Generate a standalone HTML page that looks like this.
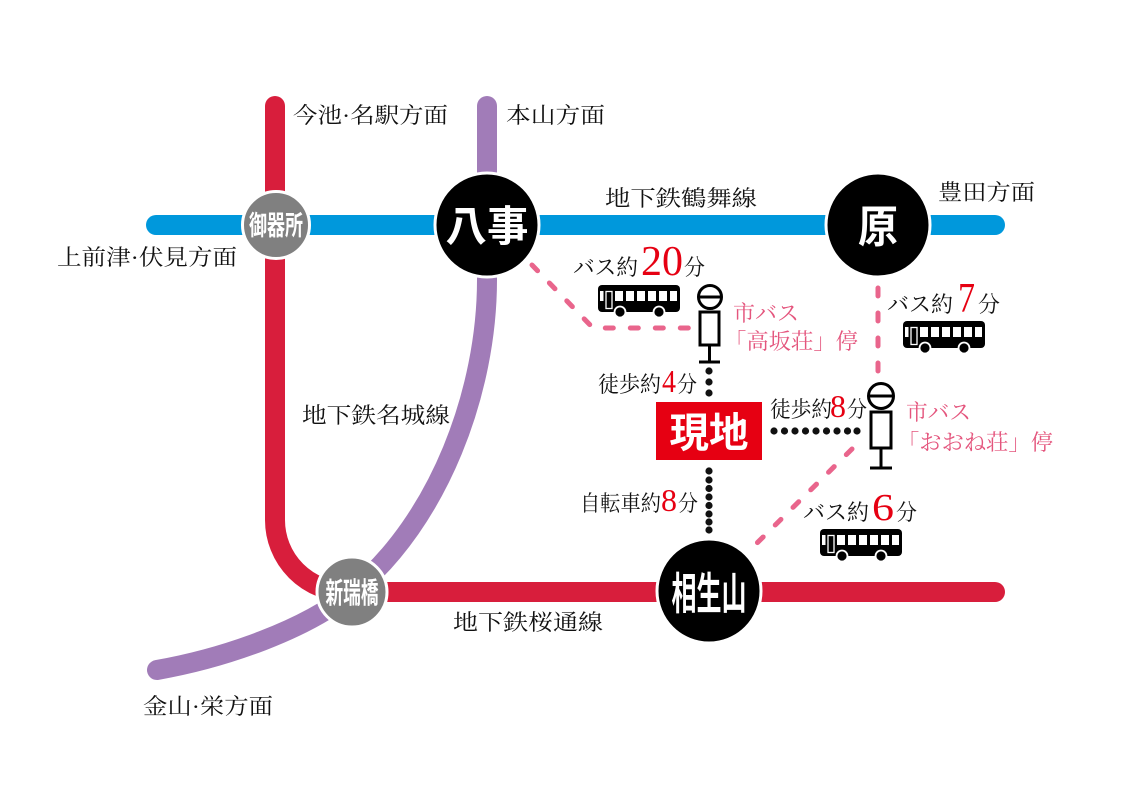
<!DOCTYPE html>
<html><head><meta charset="utf-8">
<style>
html,body{margin:0;padding:0;background:#fff;}
svg{display:block;}
.lb{font-family:"Liberation Serif","Noto Serif CJK SC",serif;font-size:22px;fill:#111;}
.pk{font-family:"Liberation Serif","Noto Serif CJK SC",serif;font-size:22px;fill:#e4557d;}
.num{font-family:"Liberation Serif","Noto Serif CJK SC",serif;fill:#e60012;}
.st{font-family:"Liberation Sans","Noto Sans CJK JP",sans-serif;font-weight:bold;fill:#fff;}
</style></head>
<body>
<svg width="1131" height="800" viewBox="0 0 1131 800" xmlns="http://www.w3.org/2000/svg">
<defs>
<g id="bus">
  <rect x="0" y="0" width="82" height="27" rx="4" fill="#000"/>
  <rect x="2" y="6" width="3.5" height="10" fill="#fff"/>
  <rect x="8" y="6.5" width="6" height="17" fill="none" stroke="#fff" stroke-width="1.3"/>
  <rect x="17" y="6" width="8" height="10" fill="#fff"/>
  <rect x="28" y="6" width="8" height="10" fill="#fff"/>
  <rect x="39" y="6" width="8" height="10" fill="#fff"/>
  <rect x="50" y="6" width="8" height="10" fill="#fff"/>
  <rect x="61" y="6" width="8" height="10" fill="#fff"/>
  <rect x="72" y="6" width="7" height="10" fill="#fff"/>
  <circle cx="22" cy="27" r="5.5" fill="#000" stroke="#fff" stroke-width="1.8"/>
  <circle cx="61" cy="27" r="5.5" fill="#000" stroke="#fff" stroke-width="1.8"/>
</g>
</defs>

<!-- Tsurumai line (blue) -->
<line x1="156" y1="225" x2="995" y2="225" stroke="#0098dc" stroke-width="20" stroke-linecap="round"/>
<!-- Meijo line (purple) -->
<path d="M487,106 L487,280 C487,390 440,520 352,592 C305,630 225,658 157,670" fill="none" stroke="#a17cb8" stroke-width="20" stroke-linecap="round"/>
<!-- Sakura-dori line (red) -->
<path d="M275,106 L275,520 A72,72 0 0 0 347,592 L995,592" fill="none" stroke="#d81e3c" stroke-width="20" stroke-linecap="round"/>

<!-- pink dashed bus routes -->
<g fill="none" stroke="#e9658c" stroke-width="5" stroke-linecap="round" stroke-dasharray="8 17">
  <path d="M532,265 L593,328 L694,328"/>
  <path d="M878,288 L878,380"/>
  <path d="M852,449 L752,548"/>
</g>

<!-- black dotted walking lines -->
<g fill="#111">
  <circle cx="709" cy="371" r="3.6"/>
  <circle cx="709" cy="382" r="3.6"/>
  <circle cx="709" cy="393" r="3.6"/>
  <circle cx="709" cy="471" r="3.6"/>
  <circle cx="709" cy="480" r="3.6"/>
  <circle cx="709" cy="488.5" r="3.6"/>
  <circle cx="709" cy="497" r="3.6"/>
  <circle cx="709" cy="505.5" r="3.6"/>
  <circle cx="709" cy="514" r="3.6"/>
  <circle cx="709" cy="522" r="3.6"/>
  <circle cx="709" cy="530" r="3.6"/>
  <circle cx="774" cy="431" r="3.6"/>
  <circle cx="784.5" cy="431" r="3.6"/>
  <circle cx="795" cy="431" r="3.6"/>
  <circle cx="805.5" cy="431" r="3.6"/>
  <circle cx="816" cy="431" r="3.6"/>
  <circle cx="826.5" cy="431" r="3.6"/>
  <circle cx="837" cy="431" r="3.6"/>
  <circle cx="847.5" cy="431" r="3.6"/>
  <circle cx="857" cy="431" r="3.6"/>
</g>

<!-- stations -->
<circle cx="276" cy="225" r="33.5" fill="#808080" stroke="#fff" stroke-width="3"/>
<circle cx="352" cy="592" r="35" fill="#808080" stroke="#fff" stroke-width="3"/>
<circle cx="487" cy="225" r="52" fill="#000" stroke="#fff" stroke-width="3"/>
<circle cx="878" cy="225" r="52" fill="#000" stroke="#fff" stroke-width="3"/>
<circle cx="709" cy="591" r="52" fill="#000" stroke="#fff" stroke-width="3"/>

<text class="st" x="276" y="235" font-size="27" text-anchor="middle" textLength="54" lengthAdjust="spacingAndGlyphs">御器所</text>
<text class="st" x="352" y="603" font-size="29" text-anchor="middle" textLength="53" lengthAdjust="spacingAndGlyphs">新瑞橋</text>
<text class="st" x="487" y="241" font-size="42" text-anchor="middle" textLength="83" lengthAdjust="spacingAndGlyphs">八事</text>
<text class="st" x="878" y="242" font-size="44" text-anchor="middle" textLength="40" lengthAdjust="spacingAndGlyphs">原</text>
<text class="st" x="709" y="609" font-size="44" text-anchor="middle" textLength="75" lengthAdjust="spacingAndGlyphs">相生山</text>

<!-- 現地 -->
<rect x="656" y="402" width="106" height="58" fill="#e60012"/>
<text class="st" x="709" y="447" font-size="41" text-anchor="middle" textLength="79" lengthAdjust="spacingAndGlyphs">現地</text>

<!-- bus stops -->
<g fill="#fff" stroke="#000" stroke-width="3">
  <circle cx="710" cy="297" r="11.5"/>
  <line x1="698.5" y1="297" x2="721.5" y2="297"/>
  <rect x="700" y="312" width="19" height="33"/>
  <line x1="709.5" y1="345" x2="709.5" y2="362"/>
  <line x1="699" y1="362" x2="720" y2="362"/>

  <circle cx="881" cy="396" r="12.5"/>
  <line x1="868.5" y1="396" x2="893.5" y2="396"/>
  <rect x="871" y="412" width="20" height="36"/>
  <line x1="881" y1="448" x2="881" y2="468"/>
  <line x1="870" y1="468" x2="892" y2="468"/>
</g>

<!-- buses -->
<use href="#bus" transform="translate(598,285)"/>
<use href="#bus" transform="translate(903,321)"/>
<use href="#bus" transform="translate(820,529)"/>

<!-- direction / line labels -->
<text class="lb" x="293" y="123" textLength="155" lengthAdjust="spacingAndGlyphs">今池·名駅方面</text>
<text class="lb" x="506" y="123" textLength="99" lengthAdjust="spacingAndGlyphs">本山方面</text>
<text class="lb" x="605" y="206" textLength="152" lengthAdjust="spacingAndGlyphs">地下鉄鶴舞線</text>
<text class="lb" x="938" y="200" textLength="97" lengthAdjust="spacingAndGlyphs">豊田方面</text>
<text class="lb" x="57" y="265" textLength="180" lengthAdjust="spacingAndGlyphs">上前津·伏見方面</text>
<text class="lb" x="302" y="423" textLength="148" lengthAdjust="spacingAndGlyphs">地下鉄名城線</text>
<text class="lb" x="453" y="630" textLength="150" lengthAdjust="spacingAndGlyphs">地下鉄桜通線</text>
<text class="lb" x="143" y="714" textLength="130" lengthAdjust="spacingAndGlyphs">金山·栄方面</text>

<!-- bus/walk times -->
<text class="lb" x="573" y="275" textLength="65" lengthAdjust="spacingAndGlyphs">バス約</text>
<text class="num" x="641" y="275" font-size="42" textLength="42" lengthAdjust="spacingAndGlyphs">20</text>
<text class="lb" x="684" y="275" textLength="21" lengthAdjust="spacingAndGlyphs">分</text>

<text class="lb" x="887" y="312" textLength="66" lengthAdjust="spacingAndGlyphs">バス約</text>
<text class="num" x="958" y="312" font-size="42" textLength="17" lengthAdjust="spacingAndGlyphs">7</text>
<text class="lb" x="978" y="312" textLength="22" lengthAdjust="spacingAndGlyphs">分</text>

<text class="lb" x="803" y="520" textLength="66" lengthAdjust="spacingAndGlyphs">バス約</text>
<text class="num" x="872" y="520" font-size="38" textLength="22" lengthAdjust="spacingAndGlyphs">6</text>
<text class="lb" x="896" y="520" textLength="21" lengthAdjust="spacingAndGlyphs">分</text>

<text class="lb" x="598" y="392" textLength="63" lengthAdjust="spacingAndGlyphs">徒歩約</text>
<text class="num" x="662" y="392" font-size="32" textLength="14" lengthAdjust="spacingAndGlyphs">4</text>
<text class="lb" x="677" y="392" textLength="20" lengthAdjust="spacingAndGlyphs">分</text>

<text class="lb" x="770" y="417" textLength="62" lengthAdjust="spacingAndGlyphs">徒歩約</text>
<text class="num" x="830" y="417" font-size="32" textLength="16" lengthAdjust="spacingAndGlyphs">8</text>
<text class="lb" x="847" y="417" textLength="20" lengthAdjust="spacingAndGlyphs">分</text>

<text class="lb" x="580" y="511" textLength="81" lengthAdjust="spacingAndGlyphs">自転車約</text>
<text class="num" x="661" y="511" font-size="32" textLength="16" lengthAdjust="spacingAndGlyphs">8</text>
<text class="lb" x="678" y="511" textLength="20" lengthAdjust="spacingAndGlyphs">分</text>

<!-- bus stop names (pink) -->
<text class="pk" x="733" y="321" textLength="66" lengthAdjust="spacingAndGlyphs">市バス</text>
<text class="pk" x="724" y="349" textLength="134" lengthAdjust="spacingAndGlyphs">「高坂荘」停</text>
<text class="pk" x="906" y="420" textLength="65" lengthAdjust="spacingAndGlyphs">市バス</text>
<text class="pk" x="897" y="450" textLength="156" lengthAdjust="spacingAndGlyphs">「おおね荘」停</text>
</svg>
</body></html>
